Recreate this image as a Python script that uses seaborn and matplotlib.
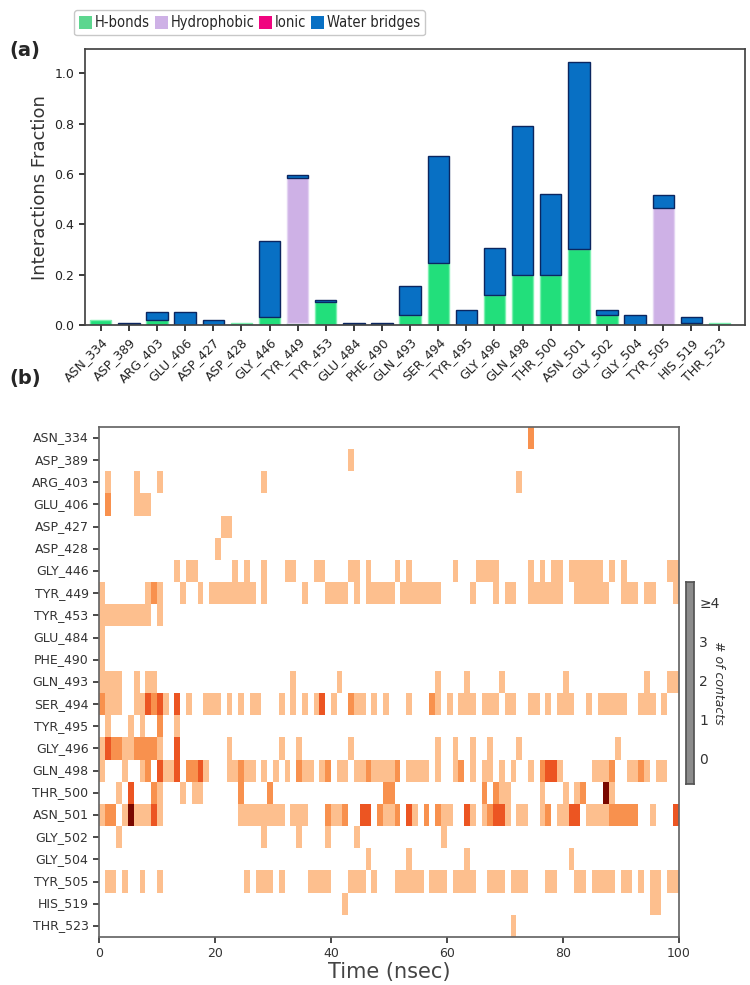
import matplotlib
matplotlib.use("Agg")
import matplotlib.pyplot as plt
from matplotlib import font_manager
from matplotlib.colors import ListedColormap
from matplotlib.patches import Patch
import numpy as np
import seaborn as sns

residues = ["ASN_334", "ASP_389", "ARG_403", "GLU_406", "ASP_427", "ASP_428",
            "GLY_446", "TYR_449", "TYR_453", "GLU_484", "PHE_490", "GLN_493",
            "SER_494", "TYR_495", "GLY_496", "GLN_498", "THR_500", "ASN_501",
            "GLY_502", "GLY_504", "TYR_505", "HIS_519", "THR_523"]

# interaction fractions
hbonds        = [0.02, 0.00, 0.02, 0.00, 0.00, 0.01, 0.03, 0.01, 0.09, 0.00, 0.00, 0.04,
                 0.245, 0.00, 0.12, 0.20, 0.20, 0.30, 0.04, 0.00, 0.00, 0.01, 0.01]
hydrophobic   = [0.00, 0.00, 0.00, 0.00, 0.00, 0.00, 0.00, 0.575, 0.00, 0.00, 0.00, 0.00,
                 0.00, 0.00, 0.00, 0.00, 0.00, 0.00, 0.00, 0.00, 0.465, 0.00, 0.00]
ionic         = [0.00, 0.00, 0.00, 0.00, 0.00, 0.00, 0.00, 0.00, 0.00, 0.00, 0.00, 0.00,
                 0.00, 0.00, 0.00, 0.00, 0.00, 0.00, 0.00, 0.00, 0.00, 0.00, 0.00]
water_bridges = [0.00, 0.01, 0.03, 0.05, 0.02, 0.00, 0.305, 0.01, 0.01, 0.01, 0.01, 0.115,
                 0.425, 0.06, 0.185, 0.59, 0.32, 0.745, 0.02, 0.04, 0.05, 0.02, 0.00]

# contacts per nsec bin for panel b: "start-end:count", count defaults to 1
contact_runs = [
    "74:2",
    "43",
    "1 6 10 28 72",
    "1:2 6-8",
    "21-22",
    "20",
    "13 15-16 23 25 28 32-33 37-38 43-44 46 51 53 61 65-68 74 76 78-79 81-86 88 90 98-99",
    "0 8 9:2 10 14 17 19-26 28 35 39-42 44 46-50 52-58 64 68 70-71 74-79 82-87 90-92 94-95 99",
    "0-8 10",
    "0",
    "0",
    "0-3 6 8-9 33 41 58 63 69 80 94 98-99",
    "0:2 1-3 6-7 8:3 9:2 10:3 11 13:3 15 18-20 22 24 26-27 31 33 35 37 38:3 40 43:2 44-45 47 49 "
    "53 57:2 58 60 62-64 66-68 70-71 74-75 77 79-81 84 86-90 93-95 97",
    "1 5 7 10:2 13",
    "0 1:3 2-3:2 4-5 6-9:2 10 13:3 22 31 34 43 58 61 64 67 72 89",
    "0 4 7 8:2 10:3 11-12 13:3 15-16:2 17:3 18 22-23 24:2 25-26 28 30 32 34:2 35-36 38 39:2 41-42 "
    "44-45 46:2 47-50 51:2 53-56 58 61 62:2 64 66-67 69 71 74 76:2 77-78:3 79 85-87 88:2 91-92 93:2 94 96-97",
    "3 5:3 9:2 10 14 16-17 24:2 29:2 49-50:2 66:2 68:2 69-70 76 80 82 83:2 87:4 88",
    "0 1-2:2 4 5:4 6-8 9:3 10 24-31 33-35 39:2 40-41 42:2 45-46:3 48:2 49-50 51:2 53:3 54 56:2 58:2 "
    "59-60 63:3 64 66 67:2 68-69:3 70 72-73 76 77:2 79-80 81-82:3 84-87 88-92:2 95 99:3",
    "3 28 34 39 44 59",
    "46 53 63 81",
    "1-2 4 7 10 25 27-29 31 36-39 43-45 47 51-55 57-59 61-64 67-69 71-73 77-78 82-83 85-88 90-91 93 "
    "95-96 98-99",
    "42 95-96",
    "71",
]
n_bins = 100
time_ticks = [0, 20, 40, 60, 80, 100]


def parse_runs(text, n=n_bins):
    row = np.zeros(n)
    for tok in text.split():
        span, _, val = tok.partition(":")
        lo, _, hi = span.partition("-")
        hi = hi or lo
        row[int(lo):int(hi) + 1] = int(val) if val else 1
    return row


sns.set_theme(style="ticks")
plt.rcParams["font.family"] = ["DejaVu Sans"]

# the reference legend text is condensed; use DejaVu Sans Condensed if it is installed
have_condensed = any(f.name == "DejaVu Sans" and f.stretch == "condensed"
                     for f in font_manager.fontManager.ttflist)
legend_prop = {"family": "DejaVu Sans", "stretch": "condensed", "size": 10.5} if have_condensed \
    else {"family": "DejaVu Sans", "size": 9.5}

fig = plt.figure(figsize=(7.5, 9.85), dpi=100)
ax_a = fig.add_axes([0.113, 0.670, 0.880, 0.280])
ax_b = fig.add_axes([0.132, 0.0487, 0.773, 0.518])
ax_cb = fig.add_axes([0.914, 0.204, 0.011, 0.205])

# --- panel a: stacked bars ---
layers = [
    ("H-bonds", hbonds, "#22df7b", "#7cf0b0"),
    ("Hydrophobic", hydrophobic, "#ceb1e6", "#e3d3f2"),
    ("Ionic", ionic, "#f0047f", "#f0047f"),
    ("Water bridges", water_bridges, "#0870c4", "#0b2660"),
]
bottom = np.zeros(len(residues))
for name, vals, face, edge in layers:
    vals = np.array(vals)
    edges = [edge if v > 0 else "none" for v in vals]
    sns.barplot(x=residues, y=vals, bottom=bottom.copy(), color=face, saturation=1,
                width=0.76, errorbar=None, edgecolor=edges, linewidth=1.0, ax=ax_a)
    bottom += vals

ax_a.set_xlim(-0.57, 22.9)
ax_a.set_ylim(0, 1.095)
ax_a.set_yticks([0.0, 0.2, 0.4, 0.6, 0.8, 1.0])
ax_a.set_ylabel("Interactions Fraction", fontsize=13, color="#333333")
ax_a.tick_params(axis="x", labelsize=9, rotation=45, colors="#222222", length=4)
ax_a.tick_params(axis="y", labelsize=9, colors="#222222", length=4)
for lab in ax_a.get_xticklabels():
    lab.set_ha("right")
    lab.set_rotation_mode("anchor")
for s in ax_a.spines.values():
    s.set_color("#444444")
    s.set_visible(True)

handles = [Patch(facecolor=c, edgecolor="none") for _, _, c, _ in layers]
handles[0].set_facecolor("#5dd68f")
fig.legend(handles, [n for n, _, _, _ in layers], loc="upper left",
           bbox_to_anchor=(0.089, 0.997), ncol=4, frameon=True, prop=legend_prop,
           handlelength=0.9, handleheight=1.0, handletextpad=0.2,
           columnspacing=0.3, borderpad=0.35, fancybox=True, edgecolor="#bbbbbb")

# --- panel b: contacts heatmap ---
contacts = np.vstack([parse_runs(r) for r in contact_runs])
cmap = ListedColormap(["#ffffff", "#fdbf8e", "#f8914e", "#ec5522", "#7a0800"])
sns.heatmap(contacts, cmap=cmap, vmin=-0.5, vmax=4.5, cbar=False, ax=ax_b,
            yticklabels=residues, xticklabels=False)
ax_b.set_xticks(time_ticks)
ax_b.set_xticklabels([str(t) for t in time_ticks])
ax_b.set_yticklabels(residues, rotation=0)
ax_b.tick_params(axis="both", labelsize=9, colors="#333333", length=4)
ax_b.set_xlabel("Time (nsec)", fontsize=15, color="#444444", labelpad=1)
for s in ax_b.spines.values():
    s.set_visible(True)
    s.set_color("#666666")

# grey contact-count bar
ax_cb.set_facecolor("#8c8c8c")
ax_cb.set_xticks([])
ax_cb.set_ylim(-0.64, 4.51)
ax_cb.set_yticks([0, 1, 2, 3, 4])
ax_cb.set_yticklabels(["0", "1", "2", "3", "≥4"])
ax_cb.yaxis.tick_right()
ax_cb.tick_params(axis="y", length=0, labelsize=10, colors="#333333", pad=4)
for s in ax_cb.spines.values():
    s.set_color("#555555")
fig.text(0.958, 0.307, "# of contacts", rotation=270, fontsize=9, fontstyle="italic",
         color="#333333", ha="center", va="center")

fig.text(0.012, 0.949, "(a)", fontsize=14, fontweight="bold", va="center")
fig.text(0.012, 0.616, "(b)", fontsize=14, fontweight="bold", va="center")

fig.savefig("out.png", dpi=100)
